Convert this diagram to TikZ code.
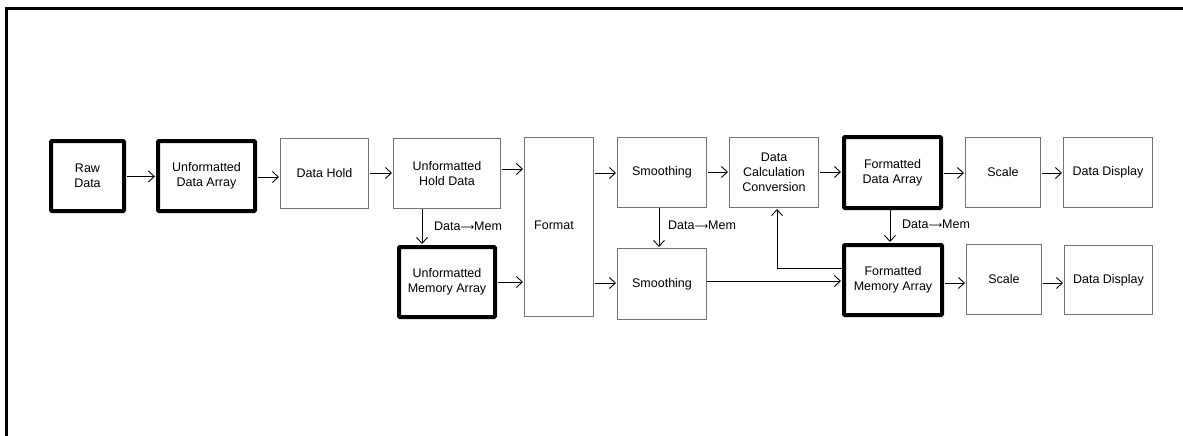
\documentclass[tikz,border=0pt]{standalone}
\usepackage{fontspec}
\setmainfont{Liberation Sans}
\newfontfamily\arrowfont{DejaVu Sans}
\usetikzlibrary{arrows.meta}
\begin{document}
\begin{tikzpicture}[x=1pt,y=-1pt,
  txt/.style={font=\fontsize{12.5}{15}\selectfont, align=center, inner sep=0pt},
  thinbox/.style={txt, draw=black!55, line width=1pt},
  thickbox/.style={txt, draw=black, line width=4pt, rounded corners=1pt},
  arr/.style={-{Straight Barb[length=6pt,width=11pt]}, line width=0.9pt, shorten <=1pt, shorten >=1pt},
  lbl/.style={font=\fontsize{12.5}{15}\selectfont, inner sep=0pt, anchor=west}]
\useasboundingbox (0,0) rectangle (1183,436);
\draw[line width=3pt] (6.5,445) -- (6.5,8.5) -- (1195,8.5);
% nodes
\node[thickbox, minimum width=73pt, minimum height=70pt] (raw) at (87.5,176) {Raw\\Data};
\node[thickbox, minimum width=97pt, minimum height=70pt] (uda) at (206.5,176) {Unformatted\\Data Array};
\node[thinbox, minimum width=88pt, minimum height=70pt] (dh) at (324.5,173.5) {Data Hold};
\node[thinbox, minimum width=107pt, minimum height=70pt] (uhd) at (447,173.5) {Unformatted\\Hold Data};
\node[thickbox, minimum width=96pt, minimum height=70pt] (uma) at (447,282) {Unformatted\\Memory Array};
\node[thinbox, minimum width=69pt, minimum height=179pt] (fmt) at (559,227) {};
\node[txt] (fmtlabel) at (554,225) {Format};
\node[thinbox, minimum width=89pt, minimum height=70pt] (sm1) at (662,172.5) {Smoothing};
\node[thinbox, minimum width=89pt, minimum height=71pt] (sm2) at (662,284) {Smoothing};
\node[thinbox, minimum width=89pt, minimum height=70pt] (dcc) at (774,172.5) {Data\\Calculation\\Conversion};
\node[thickbox, minimum width=97pt, minimum height=71pt] (fda) at (892.5,172.5) {Formatted\\Data Array};
\node[thinbox, minimum width=75pt, minimum height=70pt] (sc1) at (1003,172.5) {Scale};
\node[thinbox, minimum width=89pt, minimum height=70pt] (dd1) at (1108,172.5) {Data Display};
\node[thickbox, minimum width=98pt, minimum height=70pt] (fma) at (893,280) {Formatted\\Memory Array};
\node[thinbox, minimum width=75pt, minimum height=70pt] (sc2) at (1004,279.5) {Scale};
\node[thinbox, minimum width=88pt, minimum height=69pt] (dd2) at (1108.5,280) {Data Display};
% horizontal arrows
\draw[arr] (raw.east |- 0,176.5) -- (uda.west |- 0,176.5);
\draw[arr] (uda.east |- 0,177) -- (dh.west |- 0,177);
\draw[arr] (dh.east |- 0,173) -- (uhd.west |- 0,173);
\draw[arr] (uhd.east |- 0,169) -- (fmt.west |- 0,169);
\draw[arr] (uma.east |- 0,282) -- (fmt.west |- 0,282);
\draw[arr] (fmt.east |- 0,173) -- (sm1.west |- 0,173);
\draw[arr] (fmt.east |- 0,283) -- (sm2.west |- 0,283);
\draw[arr] (sm1.east |- 0,172) -- (dcc.west |- 0,172);
\draw[arr] (dcc.east |- 0,172) -- (fda.west |- 0,172);
\draw[arr] (fda.east |- 0,173) -- (sc1.west |- 0,173);
\draw[arr] (sc1.east |- 0,173) -- (dd1.west |- 0,173);
\draw[arr, shorten <=0pt] (sm2.east |- 0,281) -- (fma.west |- 0,281);
\draw[arr] (fma.east |- 0,283) -- (sc2.west |- 0,283);
\draw[arr] (sc2.east |- 0,283) -- (dd2.west |- 0,283);
% vertical arrows
\draw[arr, shorten <=0pt] (uhd.south -| 422,0) -- (uma.north -| 422,0);
\draw[arr, shorten <=0pt] (sm1.south -| 659,0) -- (sm2.north -| 659,0);
\draw[arr, shorten <=0pt] (fda.south -| 890,0) -- (fma.north -| 890,0);
% feedback
\coordinate (fb) at (777,268);
\draw[arr, shorten <=0pt] (fma.west |- fb) -- (fb) -- (dcc.south -| fb);
% labels
\node[lbl] (l1) at (434,226) {Data{\arrowfont\fontsize{9.5}{12}\selectfont ⟶}Mem};
\node[lbl] (l2) at (668,225) {Data{\arrowfont\fontsize{9.5}{12}\selectfont ⟶}Mem};
\node[lbl] (l3) at (902,224) {Data{\arrowfont\fontsize{9.5}{12}\selectfont ⟶}Mem};
\end{tikzpicture}
\end{document}
